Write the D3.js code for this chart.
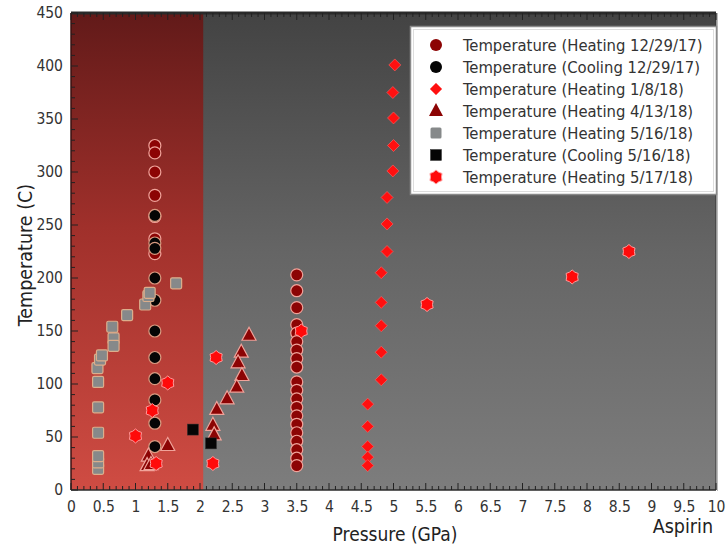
<!DOCTYPE html>
<html><head><meta charset="utf-8">
<script src="https://cdn.jsdelivr.net/npm/d3@7"></script>
<style>html,body{margin:0;padding:0;background:#fff;}svg{display:block;}</style>
</head><body>
<svg id="chart" width="727" height="548"></svg>
<script>
// ---- data ----
const xTicks = [0,0.5,1,1.5,2,2.5,3,3.5,4,4.5,5,5.5,6,6.5,7,7.5,8,8.5,9,9.5,10];
const xTickLabels = ["0","0.5","1","1.5","2","2.5","3","3.5","4","4.5","5","5.5","6","6.5","7","7.5","8","8.5","9","9.5","10"];
const yTicks = [0,50,100,150,200,250,300,350,400,450];
const seriesNames = [
  "Temperature (Heating 12/29/17)",
  "Temperature (Cooling 12/29/17)",
  "Temperature (Heating 1/8/18)",
  "Temperature (Heating 4/13/18)",
  "Temperature (Heating 5/16/18)",
  "Temperature (Cooling 5/16/18)",
  "Temperature (Heating 5/17/18)"
];
const heating122917 = [
  [1.3,325],[1.3,318],[1.3,300],[1.3,278],[1.3,258],[1.3,237],[1.3,223],
  [3.5,203],[3.5,188],[3.5,172],[3.5,156],[3.5,148],[3.5,140],[3.5,132],[3.5,124],[3.5,116],
  [3.5,102],[3.5,94],[3.5,86],[3.5,78],[3.5,70],[3.5,62],[3.5,54],[3.5,46],[3.5,38],[3.5,30],[3.5,23]
];
const cooling122917 = [
  [1.3,259],[1.3,233],[1.3,228],[1.3,200],[1.3,179],[1.3,150],[1.3,125],[1.3,105],[1.3,85],[1.3,63],[1.3,41]
];
const heating1818 = [
  [5.02,401],[4.99,375],[5.0,351],[5.0,325],[4.99,301],[4.9,276],[4.9,251],[4.9,225],
  [4.81,205],[4.81,177],[4.81,155],[4.81,130],[4.81,104],[4.6,81],[4.6,60],[4.6,41],[4.6,31],[4.6,23]
];
const heating41318 = [
  [2.76,146],[2.64,130],[2.59,120],[2.65,108],[2.57,97],[2.42,86],[2.26,76],[2.2,61],[2.22,52],
  [1.5,42],[1.2,32],[1.18,23],[1.24,24]
];
const heating51618 = [
  [0.42,20],[0.42,26],[0.42,32],[0.42,54],[0.42,78],[0.42,102],[0.41,115],[0.45,123],[0.48,127],
  [0.64,154],[0.66,143],[0.66,136],[0.87,165],[1.15,175],[1.2,183],[1.22,186],[1.63,195]
];
const cooling51618 = [[1.89,57],[2.17,44]];
const heating51718 = [
  [1.0,51],[1.26,75],[1.32,25],[1.5,101],[2.2,25],[2.25,125],[3.57,150],[5.52,175],[7.77,201],[8.65,225]
];
const redRegionEnd = 2.05;

// ---- layout ----
const svg = d3.select("#chart");
const L = 71, R = 716, T = 13, B = 490;
const x = d3.scaleLinear().domain([0,10]).range([L,R]);
const y = d3.scaleLinear().domain([0,450]).range([B,T]);
const FONT = "'DejaVu Sans Condensed','DejaVu Sans',sans-serif";

const defs = svg.append("defs");
const gR = defs.append("linearGradient").attr("id","gRed").attr("gradientUnits","userSpaceOnUse")
  .attr("x1",0).attr("y1",T).attr("x2",0).attr("y2",B);
gR.append("stop").attr("offset","0%").attr("stop-color","#621a19");
gR.append("stop").attr("offset","45%").attr("stop-color","#a0302b");
gR.append("stop").attr("offset","100%").attr("stop-color","#cf4c43");
const gG = defs.append("linearGradient").attr("id","gGray").attr("gradientUnits","userSpaceOnUse")
  .attr("x1",0).attr("y1",T).attr("x2",0).attr("y2",B);
gG.append("stop").attr("offset","0%").attr("stop-color","#434343");
gG.append("stop").attr("offset","50%").attr("stop-color","#656565");
gG.append("stop").attr("offset","100%").attr("stop-color","#7d7d7d");

svg.append("rect").attr("x",L).attr("y",T).attr("width",R-L).attr("height",B-T).attr("fill","url(#gGray)");
svg.append("rect").attr("x",L).attr("y",T).attr("width",x(redRegionEnd)-L).attr("height",B-T).attr("fill","url(#gRed)");

// frame
svg.append("line").attr("x1",L).attr("x2",R).attr("y1",T).attr("y2",T).attr("stroke","#2a2a2a").attr("stroke-width",3);
svg.append("line").attr("x1",L).attr("x2",R).attr("y1",B).attr("y2",B).attr("stroke","#2a2a2a").attr("stroke-width",1.5);
svg.append("line").attr("x1",L).attr("x2",L).attr("y1",T).attr("y2",B).attr("stroke","#3a1010").attr("stroke-width",1.5);
svg.append("line").attr("x1",R).attr("x2",R).attr("y1",T).attr("y2",B).attr("stroke","#333").attr("stroke-width",1);
svg.append("line").attr("x1",R+1.5).attr("x2",R+1.5).attr("y1",T).attr("y2",B+1).attr("stroke","#bbb").attr("stroke-width",1);

// ticks (inward)
const tickG = svg.append("g").attr("stroke","#222").attr("stroke-width",1);
const xMinor = d3.range(0,101).map(i=>i/10);
xMinor.forEach(v=>{
  const major = Math.abs(v*2-Math.round(v*2))<1e-6;
  const len = major?7:4;
  tickG.append("line").attr("x1",x(v)).attr("x2",x(v)).attr("y1",B).attr("y2",B-len);
  tickG.append("line").attr("x1",x(v)).attr("x2",x(v)).attr("y1",T).attr("y2",T+len);
});
const yMinor = d3.range(0,46).map(i=>i*10);
yMinor.forEach(v=>{
  const major = v%50===0;
  const len = major?7:4;
  tickG.append("line").attr("x1",L).attr("x2",L+len).attr("y1",y(v)).attr("y2",y(v));
});

// axes labels via d3 axes (tick text only)
const xAxis = d3.axisBottom(x).tickValues(xTicks).tickFormat((d,i)=>xTickLabels[i]).tickSize(0).tickPadding(0);
const gx = svg.append("g").attr("transform",`translate(0,${B+11})`).call(xAxis);
gx.select(".domain").remove();
gx.selectAll("text").attr("font-family",FONT).attr("font-size",15.5).attr("fill","#333").attr("dy","0.72em");

const yAxis = d3.axisLeft(y).tickValues(yTicks).tickSize(0).tickPadding(0);
const gy = svg.append("g").attr("transform",`translate(${L-8},0)`).call(yAxis);
gy.select(".domain").remove();
gy.selectAll("text").attr("font-family",FONT).attr("font-size",15.5).attr("fill","#333");

svg.append("text").attr("x",395).attr("y",541).attr("text-anchor","middle")
  .attr("font-family",FONT).attr("font-size",19).attr("fill","#222").text("Pressure (GPa)");
svg.append("text").attr("transform","translate(32,255) rotate(-90)").attr("text-anchor","middle")
  .attr("font-family",FONT).attr("font-size",19.5).attr("fill","#222").text("Temperature (C)");
svg.append("text").attr("x",713).attr("y",533).attr("text-anchor","end")
  .attr("font-family",FONT).attr("font-size",19.5).attr("fill","#222").text("Aspirin");

// markers
function hexStar(r){
  const pts=[];
  for(let i=0;i<12;i++){
    const a = Math.PI/6*i - Math.PI/2;
    const rr = i%2===0? r : r*0.78;
    pts.push([rr*Math.cos(a), rr*Math.sin(a)]);
  }
  return "M"+pts.map(p=>p.join(",")).join("L")+"Z";
}
const styles = [
  {data:heating122917, draw:(g)=>g.append("circle").attr("r",6).attr("fill","#8c0404").attr("stroke","#f0a39a").attr("stroke-width",1.2)},
  {data:cooling122917, draw:(g)=>g.append("circle").attr("r",6).attr("fill","#050505").attr("stroke","#d89a80").attr("stroke-width",1.2)},
  {data:heating1818, draw:(g)=>g.append("path").attr("d","M0,-6L6,0L0,6L-6,0Z").attr("fill","#ff1010").attr("stroke","#ff6a6a").attr("stroke-width",0.6)},
  {data:heating41318, draw:(g)=>g.append("path").attr("d","M0,-8L7,5L-7,5Z").attr("fill","#8c0404").attr("stroke","#f0a39a").attr("stroke-width",1.2)},
  {data:heating51618, draw:(g)=>g.append("rect").attr("x",-5.5).attr("y",-5.5).attr("width",11).attr("height",11).attr("rx",1.5).attr("fill","#86898a").attr("stroke","#dcae8c").attr("stroke-width",1.2)},
  {data:cooling51618, draw:(g)=>g.append("rect").attr("x",-5.5).attr("y",-5.5).attr("width",11).attr("height",11).attr("fill","#050505").attr("stroke","#333").attr("stroke-width",0.5)},
  {data:heating51718, draw:(g)=>g.append("path").attr("d",hexStar(7)).attr("fill","#ff0a0a").attr("stroke","#ff9a9a").attr("stroke-width",1)}
];
const plotG = svg.append("g");
styles.forEach(s=>{
  s.data.forEach(d=>{
    const g = plotG.append("g").attr("transform",`translate(${x(d[0])},${y(d[1])})`);
    s.draw(g);
  });
});

// legend
const lg = svg.append("g");
lg.append("rect").attr("x",410.5).attr("y",26.5).attr("width",306).attr("height",168).attr("fill","#fff").attr("stroke","#8a8a8a").attr("stroke-width",1.5);
lg.append("rect").attr("x",413.5).attr("y",29.5).attr("width",300).attr("height",162).attr("fill","none").attr("stroke","#ddd").attr("stroke-width",1);
seriesNames.forEach((name,i)=>{
  const yy = 45 + i*22;
  const g = lg.append("g").attr("transform",`translate(436,${yy})`);
  const s = styles[i];
  const m = s.draw(g);
  if(i===0||i===1) m.attr("stroke","none");
  if(i===3||i===4) m.attr("stroke","none");
  lg.append("text").attr("x",463).attr("y",yy).attr("dy","0.36em")
    .attr("font-family",FONT).attr("font-size",16.5).attr("fill","#333").text(name);
});
</script>
</body></html>
